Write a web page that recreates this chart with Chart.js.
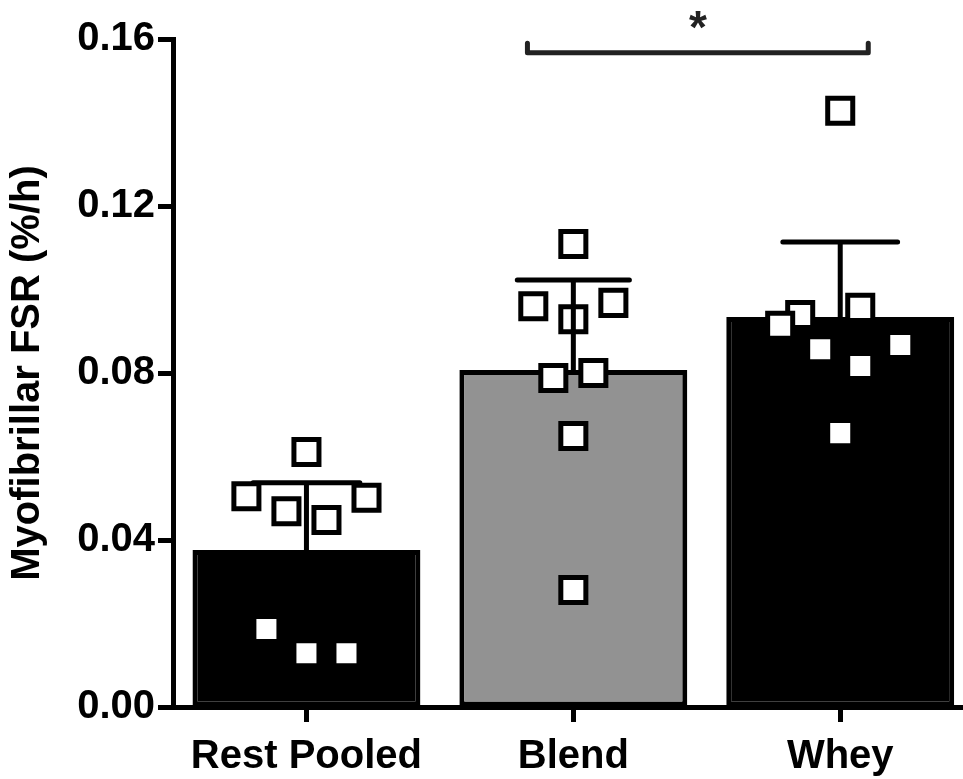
<!DOCTYPE html>
<html lang="en">
<head>
    <meta charset="UTF-8">
    <title>Myofibrillar FSR</title>
    <script src="https://cdn.jsdelivr.net/npm/chart.js"></script>
    <style>
        html, body { margin: 0; padding: 0; background: #fff; overflow: hidden; }
        canvas { display: block; }
    </style>
</head>
<body>
    <canvas id="myChart" width="963" height="779"></canvas>
    <script>
        // data
        const categories = ['Rest Pooled', 'Blend', 'Whey'];
        const means = [0.0376, 0.0807, 0.0934];
        const sdUpper = [0.0537, 0.1023, 0.1114];
        const barColors = ['#000000', '#929292', '#000000'];

        // individual subjects (x offset from the category centre, value)
        const restOffsets = [0, -0.225, -0.075, 0.075, 0.225, -0.15, 0, 0.15];
        const restValues = [0.0611, 0.0505, 0.0469, 0.0448, 0.0501, 0.0187, 0.0129, 0.0129];
        const blendOffsets = [0, -0.15, 0.15, 0, -0.075, 0.075, 0, 0];
        const blendValues = [0.1109, 0.0960, 0.0968, 0.0929, 0.0788, 0.0800, 0.0649, 0.0280];
        const wheyOffsets = [0, -0.15, 0.075, -0.225, -0.075, 0.225, 0.075, 0];
        const wheyValues = [0.1428, 0.0939, 0.0956, 0.0913, 0.0857, 0.0867, 0.0817, 0.0656];

        // significance bracket Blend vs Whey
        const bracketX = [1.828, 3.105];
        const bracketY = 0.1567;
        const bracketTop = 0.159;
        const bracketLabel = '*';

        const yTicks = [0, 0.04, 0.08, 0.12, 0.16];

        const font = '"Liberation Sans", Arial, Helvetica, sans-serif';

        const barData = means.map((m, i) => ({ x: i + 1, y: m }));

        const points = [];
        [[restOffsets, restValues], [blendOffsets, blendValues], [wheyOffsets, wheyValues]].forEach((g, i) => {
            g[1].forEach((v, j) => points.push({ x: i + 1 + g[0][j], y: v }));
        });

        // error bars: vertical line + cap, segments split by null
        const capHalf = [0.2, 0.21, 0.215];
        const errData = [];
        means.forEach((m, i) => {
            const x = i + 1;
            errData.push({ x: x, y: m }, { x: x, y: sdUpper[i] }, { x: x, y: null });
            errData.push({ x: x - capHalf[i], y: sdUpper[i] }, { x: x + capHalf[i], y: sdUpper[i] }, { x: x, y: null });
        });

        const bracketData = [
            { x: bracketX[0], y: bracketTop },
            { x: bracketX[0], y: bracketY },
            { x: bracketX[1], y: bracketY },
            { x: bracketX[1], y: bracketTop }
        ];

        const starPlugin = {
            id: 'star',
            afterDatasetsDraw(chart) {
                const c = chart.ctx;
                const xs = chart.scales.x, ys = chart.scales.y;
                c.save();
                c.fillStyle = '#222';
                c.font = 'bold 46px ' + font;
                c.textAlign = 'center';
                c.textBaseline = 'middle';
                c.fillText(bracketLabel, xs.getPixelForValue((bracketX[0] + bracketX[1]) / 2), ys.getPixelForValue(0.1625) + 2);
                c.restore();
            }
        };

        const ctx = document.getElementById('myChart').getContext('2d');
        new Chart(ctx, {
            type: 'bar',
            data: {
                datasets: [
                    {
                        type: 'line',
                        data: bracketData,
                        borderColor: '#222',
                        borderWidth: 5,
                        borderCapStyle: 'round',
                        borderJoinStyle: 'round',
                        pointRadius: 0,
                        fill: false,
                        order: 0
                    },
                    {
                        type: 'line',
                        data: errData,
                        borderColor: '#000',
                        borderWidth: 5,
                        borderCapStyle: 'round',
                        spanGaps: false,
                        pointRadius: 0,
                        fill: false,
                        order: 1
                    },
                    {
                        type: 'scatter',
                        data: points,
                        pointStyle: 'rect',
                        pointRadius: 17.7,
                        pointBorderWidth: 5,
                        pointBackgroundColor: '#fff',
                        pointBorderColor: '#000',
                        order: 2
                    },
                    {
                        type: 'bar',
                        data: barData,
                        backgroundColor: barColors,
                        borderColor: '#000',
                        borderWidth: 5,
                        borderSkipped: false,
                        categoryPercentage: 1,
                        barPercentage: 0.854,
                        order: 3
                    }
                ]
            },
            options: {
                responsive: false,
                animation: false,
                // big square markers would otherwise push the plot in from the right
                layout: { autoPadding: false, padding: { top: 39, right: 0, left: 0, bottom: 0 } },
                plugins: {
                    legend: { display: false },
                    tooltip: { enabled: false }
                },
                scales: {
                    x: {
                        type: 'linear',
                        min: 0.5,
                        max: 3.46,
                        offset: false,
                        afterBuildTicks: (scale) => {
                            scale.ticks = categories.map((c, i) => ({ value: i + 1 }));
                        },
                        afterFit: (scale) => {
                            scale.height = 72;
                            scale.paddingLeft = 0;
                            scale.paddingRight = 0;
                        },
                        ticks: {
                            callback: (v, i) => categories[i],
                            color: '#000',
                            font: { family: font, size: 40, weight: 'bold' },
                            padding: 11,
                            maxRotation: 0
                        },
                        grid: {
                            offset: false,
                            drawOnChartArea: false,
                            tickLength: 15,
                            tickWidth: 5,
                            tickColor: '#000'
                        },
                        border: { color: '#000', width: 5 }
                    },
                    y: {
                        min: 0,
                        max: 0.16,
                        afterBuildTicks: (scale) => {
                            scale.ticks = yTicks.map(v => ({ value: v }));
                        },
                        afterFit: (scale) => { scale.width = 173; },
                        ticks: {
                            callback: (v) => v.toFixed(2),
                            color: '#000',
                            font: { family: font, size: 40, weight: 'bold' },
                            padding: 3
                        },
                        grid: {
                            drawOnChartArea: false,
                            tickLength: 15,
                            tickWidth: 5,
                            tickColor: '#000'
                        },
                        border: { color: '#000', width: 5 },
                        title: {
                            display: true,
                            text: 'Myofibrillar FSR (%/h)',
                            color: '#000',
                            font: { family: font, size: 40, weight: 'bold' },
                            padding: { top: 4, bottom: 0 }
                        }
                    }
                }
            },
            plugins: [starPlugin]
        });
    </script>
</body>
</html>
